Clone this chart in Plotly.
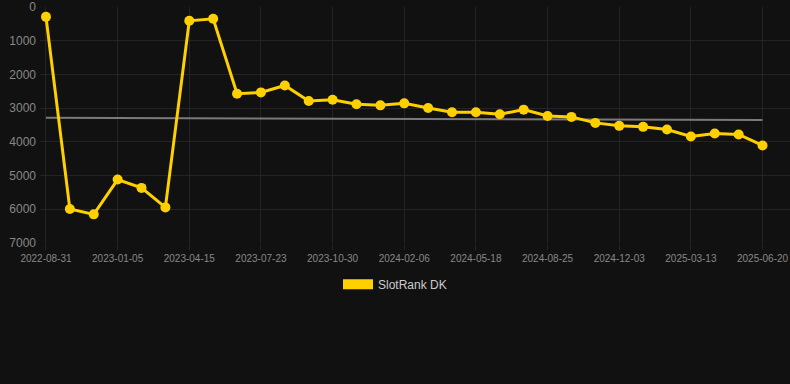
import numpy as np
import plotly.graph_objects as go

dates = [
    "2022-08-31", "2022-10-13", "2022-11-24", "2023-01-05", "2023-02-08",
    "2023-03-13", "2023-04-15", "2023-05-18", "2023-06-20", "2023-07-23",
    "2023-08-25", "2023-09-27", "2023-10-30", "2023-12-03", "2024-01-05",
    "2024-02-06", "2024-03-10", "2024-04-14", "2024-05-18", "2024-06-20",
    "2024-07-23", "2024-08-25", "2024-09-27", "2024-10-31", "2024-12-03",
    "2025-01-05", "2025-02-08", "2025-03-13", "2025-04-15", "2025-05-18",
    "2025-06-20",
]
rank = [
    292, 5994, 6150, 5118, 5366, 5944, 410, 351, 2572, 2533,
    2327, 2788, 2749, 2887, 2917, 2858, 2995, 3123, 3123, 3182,
    3044, 3231, 3260, 3437, 3525, 3555, 3634, 3841, 3752, 3782,
    4106,
]
tick_labels = dates[::3]
y_ticks = [0, 1000, 2000, 3000, 4000, 5000, 6000, 7000]

GOLD = "#FFD000"
BG = "#111111"
GRID = "#242424"

idx = np.arange(len(rank))
slope, intercept = np.polyfit(idx, rank, 1)
trend = slope * idx + intercept

fig = go.Figure()
fig.add_trace(go.Scatter(
    x=dates, y=trend, mode="lines",
    line=dict(color="#7a7a7a", width=2),
    showlegend=False, hoverinfo="skip",
))
fig.add_trace(go.Scatter(
    x=dates, y=rank, mode="lines+markers",
    line=dict(color=GOLD, width=3),
    marker=dict(color=GOLD, size=10),
    name="SlotRank DK", showlegend=False,
))
# legend swatch (rectangle-like)
fig.add_trace(go.Scatter(
    x=[None], y=[None], mode="lines",
    line=dict(color=GOLD, width=11),
    name="SlotRank DK", showlegend=True,
))

fig.update_layout(
    width=790, height=384,
    paper_bgcolor=BG, plot_bgcolor=BG,
    margin=dict(l=40, r=0, t=7, b=141),
    font=dict(family="Arial, Liberation Sans, sans-serif", color="#888888"),
    legend=dict(
        orientation="h", xref="container", yref="container",
        x=0.5, xanchor="center", y=0.26, yanchor="middle",
        font=dict(size=12, color="#cccccc"),
        bgcolor="rgba(0,0,0,0)",
    ),
    xaxis=dict(
        type="category",
        range=[-0.25, 31.15],
        tickvals=tick_labels, ticktext=tick_labels,
        showgrid=True, gridcolor=GRID, gridwidth=1,
        ticks="outside", ticklen=6, tickcolor=GRID,
        tickfont=dict(size=10, color="#888888"),
        zeroline=False, showline=False,
    ),
    yaxis=dict(
        range=[7000, 0],
        tickvals=y_ticks,
        showgrid=True, gridcolor=GRID, gridwidth=1,
        tickfont=dict(size=12, color="#888888"),
        zeroline=False, showline=False,
        ticks="", ticklabelstandoff=3,
    ),
)

fig.write_html(
    "out.html",
    config={"displayModeBar": False},
    post_script="document.body.style.margin='0';document.body.style.background='#111111';",
)
